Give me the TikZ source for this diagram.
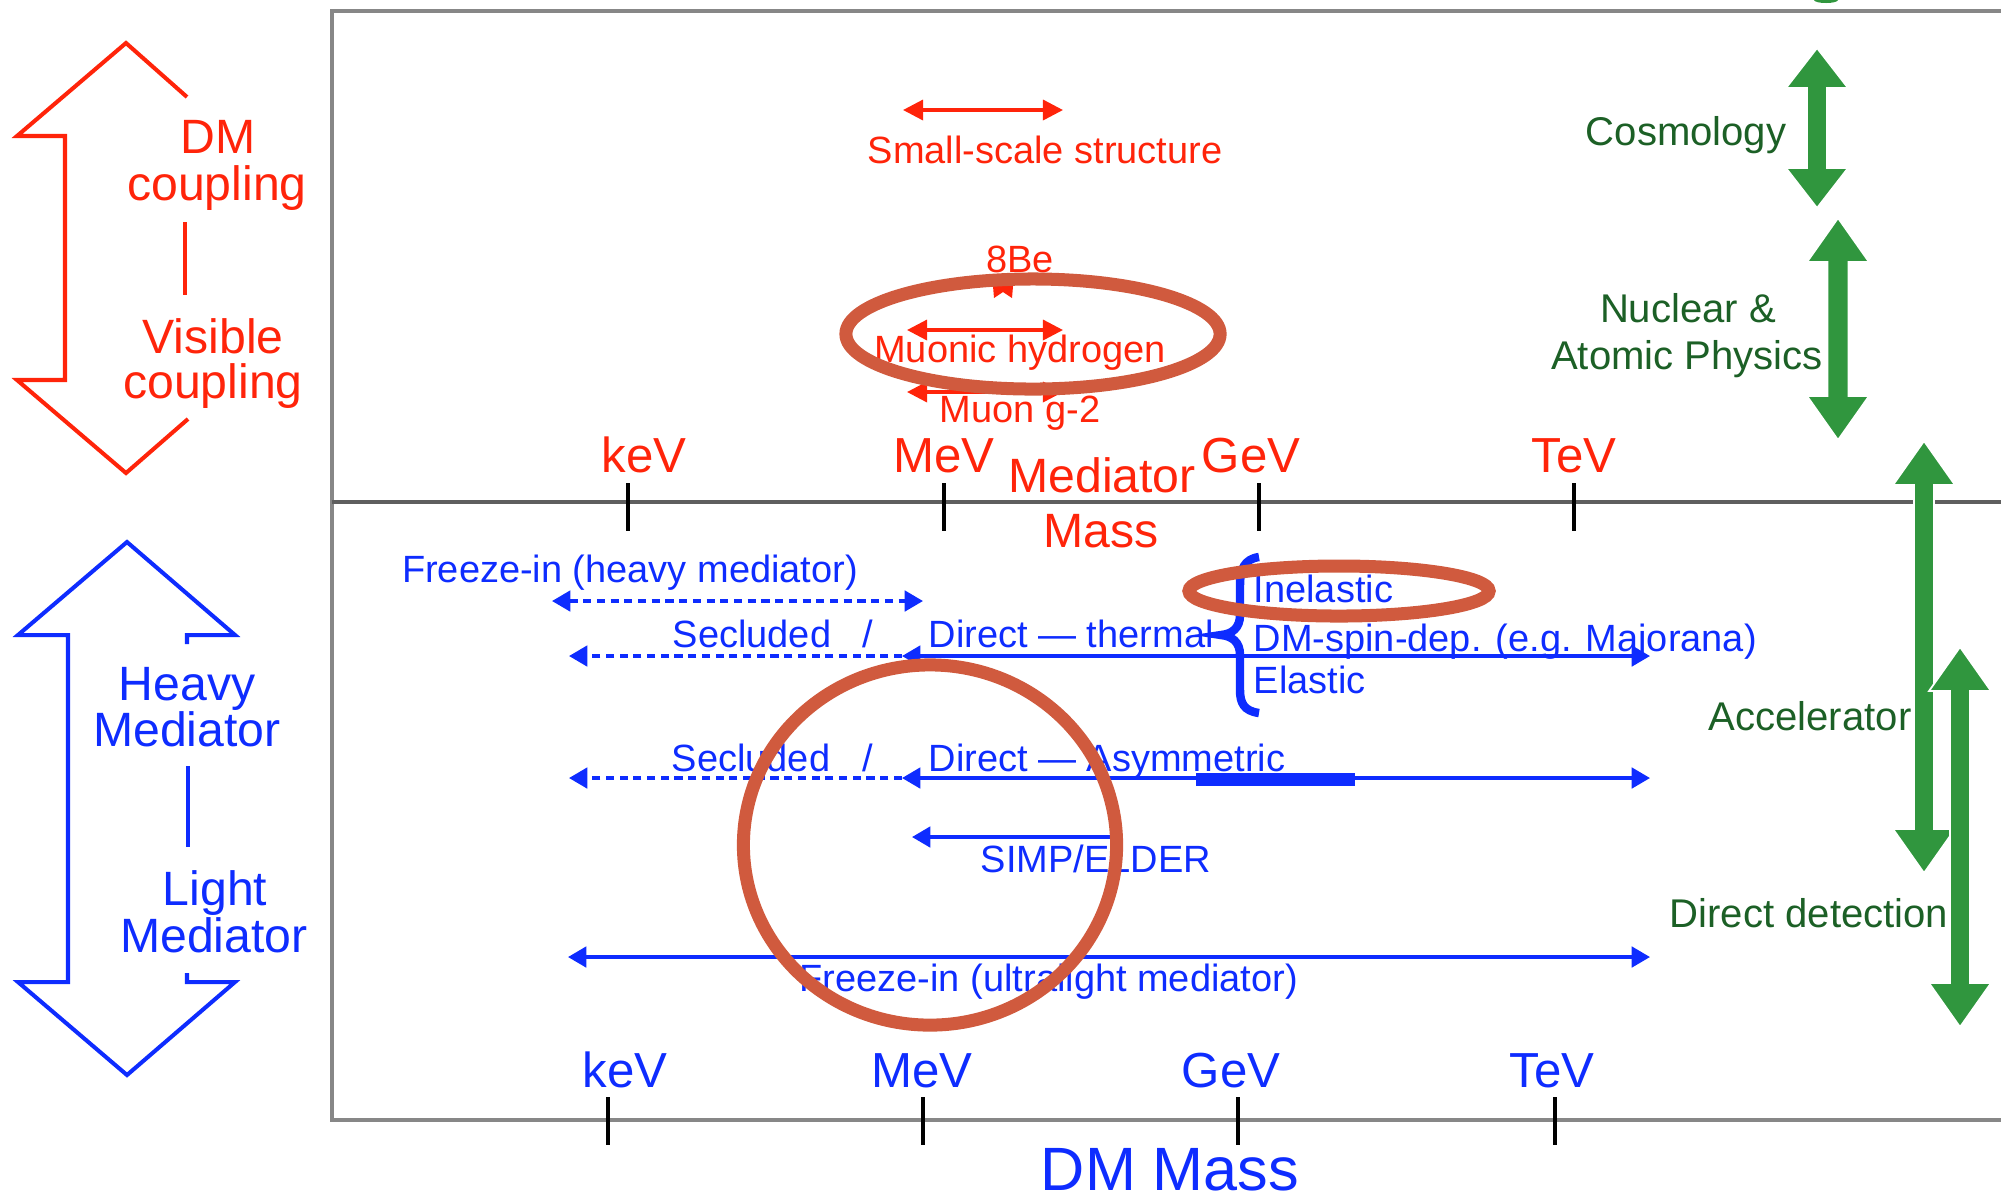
\documentclass[tikz,border=0pt]{standalone}
\usepackage{fontspec}
\setmainfont{Liberation Sans}
\usetikzlibrary{arrows.meta}
\definecolor{myred}{RGB}{255,36,10}
\definecolor{myblue}{RGB}{14,44,255}
\definecolor{gtext}{RGB}{28,96,38}
\definecolor{garrow}{RGB}{48,150,62}
\definecolor{circ}{RGB}{208,90,62}
\definecolor{framegray}{RGB}{135,135,135}
\definecolor{midgray}{RGB}{95,95,95}
\newcommand\dblgreenarrow[6]{%
 \fill[garrow, draw=white, line width=0.5pt] (#1,#2) -- ({#1+#5},{#2+#6}) -- ({#1+#4},{#2+#6}) -- ({#1+#4},{#3-#6}) -- ({#1+#5},{#3-#6}) -- (#1,#3) -- ({#1-#5},{#3-#6}) -- ({#1-#4},{#3-#6}) -- ({#1-#4},{#2+#6}) -- ({#1-#5},{#2+#6}) -- cycle;}
\tikzset{
 lbl/.style={inner sep=0pt, anchor=base},
 lblw/.style={inner sep=0pt, anchor=base west},
 fsS/.style={font=\fontsize{10.8pt}{13pt}\selectfont},
 fsG/.style={font=\fontsize{11.4pt}{13.5pt}\selectfont},
 fsM/.style={font=\fontsize{13.7pt}{16pt}\selectfont},
 fsA/.style={font=\fontsize{14.0pt}{16pt}\selectfont},
 fsL/.style={font=\fontsize{17.4pt}{20pt}\selectfont},
 rarr/.style={myred, line width=0.95pt, >={Triangle[length=5.7pt,width=5.7pt]}},
 barr/.style={myblue, line width=1pt, >={Triangle[length=5.2pt,width=5.8pt]}},
 bdot/.style={barr, dash pattern=on 2.3pt off 1.6pt},
 tick/.style={black, line width=0.9pt},
 ring/.style={circ, line width=3.7pt},
}
\begin{document}
\begin{tikzpicture}[x=0.01cm, y=-0.01cm]
\useasboundingbox (0,0) rectangle (2001,1199);
\clip (0,0) rectangle (2001,1199);
% frame
\draw[framegray, line width=1pt] (2010,11) -- (332,11) -- (332,1120) -- (2010,1120);
\draw[midgray, line width=1pt] (332,502) -- (2010,502);
\fill[garrow] (1826,0) ellipse [x radius=0.12cm, y radius=0.03cm];
% ticks
\foreach \tx in {628,944,1259,1574} \draw[tick] (\tx,483) -- (\tx,531);
\foreach \tx in {608,923,1238,1555} \draw[tick] (\tx,1097) -- (\tx,1145);
% left red outline arrow
\draw[myred, line width=1.15pt, line join=miter] (187,97) -- (126,43) -- (17,136) -- (65,136) -- (65,380) -- (17,380) -- (126,473) -- (188,419);
\draw[myred, line width=1.15pt] (185,222) -- (185,295);
\node[lbl, fsM, text=myred] (dm) at (218,153) {DM};
\node[lbl, fsM, text=myred] (coup1) at (217,200) {coupling};
\node[lbl, fsM, text=myred] (vis) at (213,353) {Visible};
\node[lbl, fsM, text=myred] (coup2) at (213,398) {coupling};
% left blue outline arrow
\draw[myblue, line width=1.15pt, line join=miter] (187,644) -- (187,635) -- (235,635) -- (127,542) -- (18,635) -- (68,635) -- (68,982) -- (18,982) -- (127,1075) -- (235,982) -- (187,982) -- (187,973);
\draw[myblue, line width=1.25pt] (188,766) -- (188,847);
\node[lbl, fsM, text=myblue] (heavy) at (187,700) {Heavy};
\node[lbl, fsM, text=myblue] (med1) at (187,746) {Mediator};
\node[lbl, fsM, text=myblue] (light) at (215,905) {Light};
\node[lbl, fsM, text=myblue] (med2) at (214,952) {Mediator};
% red upper content
\coordinate (ss1) at (903,110); \coordinate (ss2) at (1063,110);
\draw[rarr, <->] (ss1) -- (ss2);
\node[lbl, fsS, text=myred] (sss) at (1045,163) {Small-scale structure};
\node[lbl, fsS, text=myred] (be) at (1020,272) {8Be};
\fill[myred] (993,286) -- (1013,286) -- (1012,298) -- (1003,292) -- (994,298) -- cycle;
\coordinate (mh1) at (907,330); \coordinate (mh2) at (1063,330);
\draw[rarr, <->] (mh1) -- (mh2);
\node[lbl, fsS, text=myred] (muh) at (1020,362) {Muonic hydrogen};
\coordinate (mg1) at (907,392); \coordinate (mg2) at (1063,392);
\draw[rarr, <->] (mg1) -- (mg2);
\node[lbl, fsS, text=myred] (mug) at (1020,422) {Muon g-2};
\node[lbl, fsA, text=myred] (rkev) at (644,472) {keV};
\node[lbl, fsA, text=myred] (rmev) at (944,472) {MeV};
\node[lbl, fsA, text=myred] (rgev) at (1251,472) {GeV};
\node[lbl, fsA, text=myred] (rtev) at (1574,472) {TeV};
\node[lbl, fsM, text=myred] (medm) at (1102,492) {Mediator};
\node[lbl, fsM, text=myred] (mass) at (1101,547) {Mass};
% green arrows and labels
\dblgreenarrow{1817}{48}{208}{10}{31}{40}
\dblgreenarrow{1838}{218}{440}{10.5}{31}{44}
\dblgreenarrow{1924}{441}{873}{10}{31}{44}
\dblgreenarrow{1960}{647}{1027}{10}{31}{44}
\node[lbl, fsG, text=gtext] (cosmo) at (1686,145) {Cosmology};
\node[lbl, fsG, text=gtext] (nuc) at (1688,322) {Nuclear \&};
\node[lbl, fsG, text=gtext] (atom) at (1687,369) {Atomic Physics};
\node[lbl, fsG, text=gtext] (acc) at (1810,730) {Accelerator};
\node[lbl, fsG, text=gtext] (dd) at (1809,927) {Direct detection};
% blue lower content
\node[lbl, fsS, text=myblue] (fzh) at (630,582) {Freeze-in (heavy mediator)};
\coordinate (r1a) at (552,601); \coordinate (r1b) at (923,601);
\draw[bdot, <->] (r1a) -- (r1b);
\coordinate (r2a) at (569,656); \coordinate (r2m) at (902,656); \coordinate (r2b) at (1650,656);
\draw[bdot, ->] (r2m) -- (r2a);
\draw[barr, <->] (r2m) -- (r2b);
\node[lbl, fsS, text=myblue] (sec1) at (752,647) {Secluded};
\node[lbl, fsS, text=myblue] (sl1) at (868,647) {/};
\node[lblw, fsS, text=myblue] (dth) at (928,647) {Direct — thermal};
\draw[myblue, line width=2.4pt] (1259,557) .. controls (1244,559) and (1240,570) .. (1240,585) -- (1240,615) .. controls (1240,628) and (1232,634) .. (1221,635) .. controls (1232,636) and (1240,642) .. (1240,655) -- (1240,690) .. controls (1240,703) and (1244,711) .. (1259,713);
\node[lblw, fsS, text=myblue] (inel) at (1253,602) {Inelastic};
\node[lblw, fsS, text=myblue] (spin) at (1253,651) {DM-spin-dep. (e.g. Majorana)};
\node[lblw, fsS, text=myblue] (elas) at (1253,693) {Elastic};
\coordinate (r3a) at (569,778); \coordinate (r3m) at (902,778); \coordinate (r3b) at (1650,778);
\draw[bdot, ->] (r3m) -- (r3a);
\draw[barr, <->] (r3m) -- (r3b);
\fill[myblue] (1196,773) rectangle (1355,786);
\node[lbl, fsS, text=myblue] (sec2) at (751,771) {Secluded};
\node[lbl, fsS, text=myblue] (sl2) at (868,771) {/};
\node[lblw, fsS, text=myblue] (dasym) at (928,771) {Direct — Asymmetric};
\coordinate (sa) at (912,837); \coordinate (sb) at (1112,837);
\draw[barr, ->] (sb) -- (sa);
\node[lblw, fsS, text=myblue] (simp) at (980,872) {SIMP/ELDER};
\coordinate (fa) at (568,957); \coordinate (fb) at (1650,957);
\draw[barr, <->] (fa) -- (fb);
\node[lblw, fsS, text=myblue] (fzu) at (799,991) {Freeze-in (ultralight mediator)};
\node[lbl, fsA, text=myblue] (bkev) at (625,1087) {keV};
\node[lbl, fsA, text=myblue] (bmev) at (922,1087) {MeV};
\node[lbl, fsA, text=myblue] (bgev) at (1231,1087) {GeV};
\node[lbl, fsA, text=myblue] (btev) at (1552,1087) {TeV};
\node[lbl, fsL, text=myblue] (dmm) at (1170,1190) {DM Mass};
% highlight rings
\draw[ring] (1033,334) ellipse [x radius=1.87cm, y radius=0.55cm];
\draw[ring] (1339,591) ellipse [x radius=1.50cm, y radius=0.25cm];
\draw[ring] (930,845) ellipse [x radius=1.865cm, y radius=1.80cm];
\end{tikzpicture}
\end{document}
